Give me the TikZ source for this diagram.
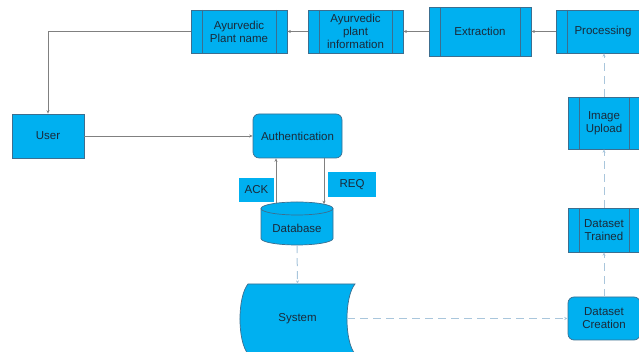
\documentclass[tikz,border=0pt]{standalone}
\usepackage{fontspec}
\setmainfont{Liberation Sans}
\usetikzlibrary{arrows.meta}
\definecolor{boxfill}{HTML}{00B0F0}
\definecolor{boxdraw}{HTML}{3C6E8F}
\definecolor{solidline}{HTML}{808080}
\definecolor{dashline}{HTML}{A9C6DC}
\definecolor{txt}{HTML}{1A2A3A}
\tikzset{
  lbl/.style={text=txt, font=\fontsize{11.5}{13}\selectfont, align=center, inner sep=0pt},
  base/.style={lbl, fill=boxfill, draw=boxdraw, line width=0.7pt},
  procbox/.style={base, path picture={
      \draw[boxdraw, line width=0.7pt]
        ([xshift=11pt]path picture bounding box.north west) -- ([xshift=11pt]path picture bounding box.south west)
        ([xshift=-11pt]path picture bounding box.north east) -- ([xshift=-11pt]path picture bounding box.south east);}},
  roundbox/.style={base, rounded corners=6pt},
  tagbox/.style={lbl, fill=boxfill},
  arr/.style={-{Stealth[length=3.5pt,width=3pt]}},
  solidconn/.style={draw=solidline, line width=0.6pt, arr},
  dashconn/.style={draw=dashline, line width=1pt, dash pattern=on 8pt off 5pt, arr}
}
\begin{document}
\begin{tikzpicture}[x=1pt,y=1pt]
\useasboundingbox (0,0) rectangle (639,352);
\clip (0,0) rectangle (639,352);
% top row
\node[procbox, minimum width=96pt, minimum height=43pt] (pname) at (239,320.5) {Ayurvedic\\Plant name};
\node[procbox, minimum width=95pt, minimum height=43pt] (info) at (355.5,320.5) {Ayurvedic\\plant\\information};
\node[procbox, minimum width=102pt, minimum height=49pt] (extr) at (480,320.5) {Extraction};
\node[procbox, minimum width=94pt, minimum height=43pt] (proc) at (603,320.5) {Processing};
% middle
\node[base, minimum width=72pt, minimum height=44pt] (user) at (48,216) {User};
\node[roundbox, minimum width=89pt, minimum height=44pt] (auth) at (297.5,216) {Authentication};
\node[tagbox, minimum width=35pt, minimum height=24pt] (ack) at (256.5,162) {ACK};
\node[tagbox, minimum width=48pt, minimum height=25pt] (req) at (352,167.5) {REQ};
% database
\node[minimum width=72pt, minimum height=43pt, inner sep=0pt] (db) at (297,128.5) {};
\draw[fill=boxfill, draw=boxdraw, line width=0.7pt] (261,143.5) -- (261,113.5)
  arc[start angle=180, end angle=360, x radius=36pt, y radius=6.5pt] -- (333,143.5)
  arc[start angle=0, end angle=180, x radius=36pt, y radius=6.5pt] -- cycle;
\draw[draw=boxdraw, line width=0.7pt] (261,143.5) arc[start angle=180, end angle=360, x radius=36pt, y radius=6.5pt];
\node[lbl] (dblabel) at (297,124) {Database};
% system
\node[minimum width=115pt, minimum height=70pt, inner sep=0pt] (sys) at (297.5,33) {};
\draw[fill=boxfill, draw=boxdraw, line width=0.7pt] (248,68) -- (355,68)
  .. controls (344.3,55) and (344.3,11) .. (355,-2) -- (248,-2)
  .. controls (237.3,11) and (237.3,55) .. (248,68) -- cycle;
\node[lbl] (syslabel) at (297.5,33) {System};
% right column
\node[procbox, minimum width=72pt, minimum height=52pt] (upload) at (604,229) {Image\\Upload};
\node[procbox, minimum width=72pt, minimum height=44pt] (trained) at (604,122) {Dataset\\Trained};
\node[roundbox, minimum width=72pt, minimum height=43pt] (dcre) at (604,33.5) {Dataset\\Creation};
% connectors
\draw[solidconn] (proc.west) -- (extr.east);
\draw[solidconn] (extr.west) -- (info.east);
\draw[solidconn] (info.west) -- (pname.east);
\draw[solidconn] (pname.west) -| (user.north);
\draw[solidconn] (user.east) -- (auth.west);
\coordinate (ackS) at (276,148.8);
\coordinate (reqE) at (324,147.8);
\draw[solidconn] (ackS) -- (ackS |- auth.south);
\draw[solidconn] (reqE |- auth.south) -- (reqE);
\draw[dashconn] (db.south) -- (sys.north);
\coordinate (sysE) at (347,33.5);
\draw[dashconn] (sysE) -- (dcre.west);
\draw[dashconn] (dcre.north) -- (trained.south);
\draw[dashconn] (trained.north) -- (upload.south);
\draw[dashconn] (upload.north) -- (upload.north |- proc.south);
\end{tikzpicture}
\end{document}
